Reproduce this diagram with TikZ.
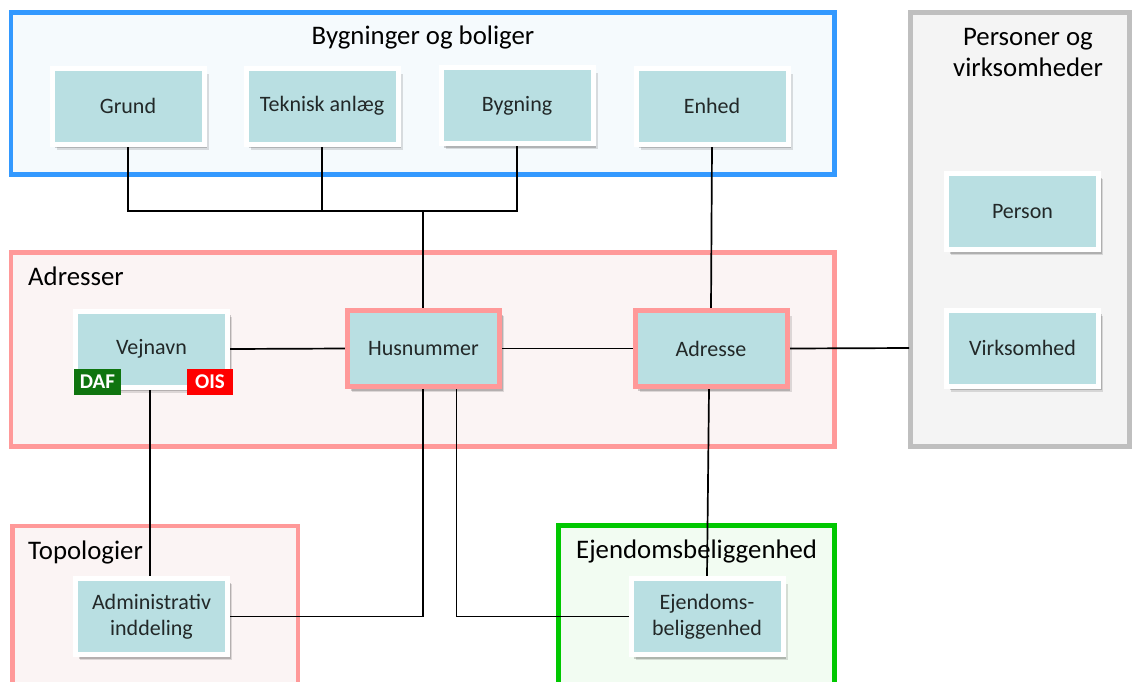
\documentclass[tikz,border=0pt]{standalone}
\usepackage{fontspec}
\setmainfont{Carlito}
\usetikzlibrary{shadows}
\definecolor{nodefill}{HTML}{B9DFE2}
\definecolor{nodetext}{HTML}{222828}
\definecolor{bluestroke}{HTML}{3399FF}
\definecolor{bluefill}{HTML}{F5FAFD}
\definecolor{pinkstroke}{HTML}{FF9999}
\definecolor{pinkfill}{HTML}{FBF4F4}
\definecolor{graystroke}{HTML}{BFBFBF}
\definecolor{grayfill}{HTML}{F4F4F4}
\definecolor{greenstroke}{HTML}{00C800}
\definecolor{greenfill}{HTML}{F2FCF2}
\definecolor{dafgreen}{HTML}{0F740F}
\definecolor{oisred}{HTML}{FF0000}
\pgfdeclarelayer{back}
\pgfdeclarelayer{mid}
\pgfsetlayers{back,mid,main}
\tikzset{
  entity/.style={draw=white, line width=5pt, fill=nodefill, minimum width=152pt, minimum height=76pt,
    inner sep=2pt, align=center, text=nodetext, font=\fontsize{22}{26}\selectfont,
    general shadow={shadow xshift=4.5pt, shadow yshift=-5.5pt, fill=black, opacity=0.12},
    general shadow={shadow xshift=3pt, shadow yshift=-4pt, fill=black, opacity=0.18}},
  keyentity/.style={entity, draw=pinkstroke},
  groupbox/.style={line width=4.5pt},
  grouptitle/.style={font=\fontsize{26.8}{31}\selectfont, text=black, inner sep=0pt},
  tag/.style={minimum width=47pt, minimum height=26pt, inner sep=0pt, text=white, font=\bfseries\fontsize{21}{22}\selectfont},
  link/.style={line width=1.7pt, black}
}
\begin{document}
\begin{tikzpicture}[x=1pt,y=-1pt]
\useasboundingbox (0,0) rectangle (1132,681);

% ---------- group boxes ----------
\begin{pgfonlayer}{back}
\fill[white] (0,0) rectangle (1132,681);
\draw[groupbox, draw=bluestroke, fill=bluefill] (11,12.5) rectangle (834.5,174.5);
\draw[groupbox, draw=graystroke, fill=grayfill] (910.5,12.5) rectangle (1129.5,446.5);
\draw[groupbox, draw=pinkstroke, fill=pinkfill] (11,252.5) rectangle (834.5,446.5);
\draw[groupbox, draw=pinkstroke, fill=pinkfill] (12.5,526) rectangle (298,700);
\draw[groupbox, draw=greenstroke, fill=greenfill] (558.5,525.5) rectangle (834.5,700);
\node[grouptitle] (tByg) at (423,37) {Bygninger og boliger};
\node[grouptitle, align=center] (tPers) at (1028,52) {Personer og\\virksomheder};
\node[grouptitle, anchor=west] (tAdr) at (28,276) {Adresser};
\node[grouptitle, anchor=west] (tTop) at (28,552) {Topologier};
\node[grouptitle, anchor=west] (tEjd) at (576,551) {Ejendomsbeliggenhed};
\end{pgfonlayer}

% ---------- entities ----------
\node[entity] (Grund) at (128,106) {Grund};
\node[entity] (Tek) at (322,106) {Teknisk anlæg};
\node[entity] (Byg) at (517,105.5) {Bygning};
\node[entity] (Enh) at (712,106) {Enhed};
\node[entity] (Pers) at (1022.5,211.5) {Person};
\node[entity] (Virk) at (1022.5,348) {Virksomhed};
\node[entity] (Vej) at (151.5,349) {Vejnavn};
\node[keyentity] (Hus) at (423.5,348.5) {Husnummer};
\node[keyentity] (Adr) at (711,348.5) {Adresse};
\node[entity] (Adm) at (151.5,616.5) {Administrativ\\inddeling};
\node[entity] (Ejd) at (707,616.5) {Ejendoms-\\beliggenhed};
\node[tag, fill=dafgreen] (DAF) at (97.5,382) {DAF};
\node[tag, fill=oisred, minimum width=46pt] (OIS) at (210,382) {OIS};

\coordinate (J) at (423,211);
\coordinate (PV) at (909,348);

% ---------- connectors ----------
\begin{pgfonlayer}{mid}
\draw[link] (Grund.south) |- (J);
\draw[link] (Byg.south) |- (J);
\draw[link] (Tek.south) -- (Tek.south |- J);
\draw[link] (J) -- (J |- Hus.north);
\draw[link] (Enh.south) -- (Adr.north);
\draw[link] (Vej.east) -- (Hus.west);
\draw[link] (Hus.east) -- (Adr.west);
\draw[link] (Adr.east) -- (PV);
\draw[link] ([xshift=-1.5pt]Vej.south) -- ([xshift=-1.5pt]Adm.north);
\draw[link] (Adm.east) -| ([xshift=-0.5pt]Hus.south);
\draw[link] ([xshift=33pt]Hus.south) |- (Ejd.west);
\draw[link] ([xshift=-2pt]Adr.south) -- ([xshift=0pt]Ejd.north);
\end{pgfonlayer}
\end{tikzpicture}
\end{document}
